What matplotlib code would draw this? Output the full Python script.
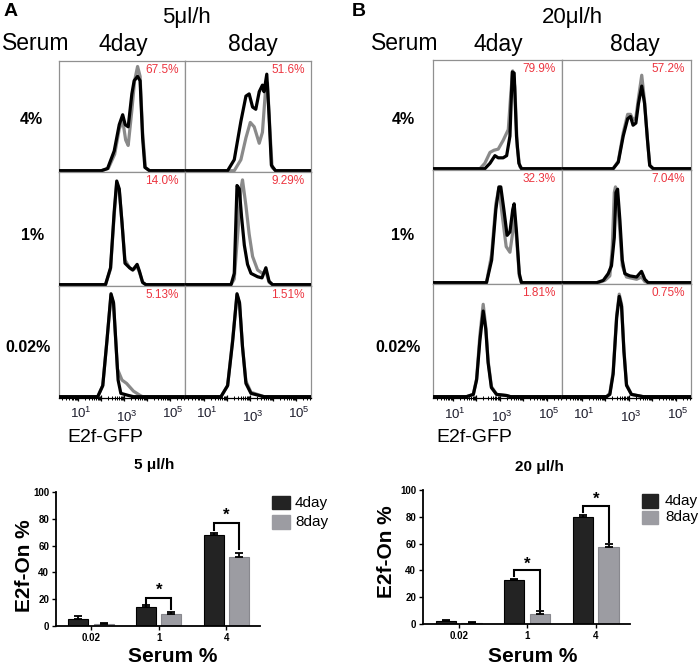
import matplotlib
matplotlib.use("Agg")
import matplotlib.pyplot as plt
from matplotlib.patches import Rectangle
import numpy as np

plt.rcParams['font.family'] = ['Liberation Sans', 'DejaVu Sans']
plt.rcParams['mathtext.fontset'] = 'custom'
plt.rcParams['mathtext.rm'] = 'Liberation Sans'

W, H = 699, 668

# ---------------- DATA ----------------
serum_rows = ["4%", "1%", "0.02%"]
day_cols = ["4day", "8day"]
flow_titles = ["5μl/h", "20μl/h"]
bar_titles = ["5 μl/h", "20 μl/h"]
bar_categories = ["0.02", "1", "4"]

# red "E2f-On" percentages, [row][col]
pct_A = [["67.5%", "51.6%"], ["14.0%", "9.29%"], ["5.13%", "1.51%"]]
pct_B = [["79.9%", "57.2%"], ["32.3%", "7.04%"], ["1.81%", "0.75%"]]

# histogram curves (log10 fluorescence, relative height)
A_4_d4_gray = [(2.0, 0), (2.3, 0.02), (2.58, 0.15), (2.78, 0.38), (2.93, 0.46), (3.06, 0.28), (3.17, 0.23),
               (3.33, 0.55), (3.45, 0.82), (3.58, 0.95), (3.69, 0.86), (3.8, 0.35), (3.92, 0.03), (4.1, 0)]
A_4_d4_black = [(2.0, 0), (2.27, 0.02), (2.56, 0.18), (2.78, 0.42), (2.93, 0.51), (3.04, 0.42), (3.17, 0.40),
                (3.33, 0.70), (3.43, 0.82), (3.58, 0.86), (3.69, 0.82), (3.8, 0.30), (3.9, 0.03), (4.1, 0)]
A_4_d8_gray = [(2.3, 0), (2.59, 0.10), (2.81, 0.30), (3.0, 0.44), (3.17, 0.40), (3.39, 0.25), (3.53, 0.35),
               (3.67, 0.75), (3.75, 0.80), (3.85, 0.40), (3.95, 0.03), (4.1, 0)]
A_4_d8_black = [(2.01, 0), (2.3, 0.10), (2.59, 0.45), (2.81, 0.68), (2.95, 0.70), (3.1, 0.58), (3.24, 0.56),
                (3.39, 0.72), (3.53, 0.78), (3.6, 0.72), (3.72, 0.88), (3.82, 0.50), (3.92, 0.05), (4.1, 0)]
A_1_d4_gray = [(2.18, 0), (2.4, 0.14), (2.56, 0.62), (2.67, 0.90), (2.78, 0.84), (2.9, 0.55), (3.03, 0.22),
               (3.23, 0.15), (3.37, 0.13), (3.56, 0.16), (3.66, 0.11), (3.8, 0.02), (3.94, 0)]
A_1_d4_black = [(2.18, 0), (2.4, 0.15), (2.56, 0.65), (2.67, 0.92), (2.78, 0.85), (2.9, 0.55), (3.03, 0.19),
                (3.23, 0.15), (3.37, 0.13), (3.56, 0.18), (3.66, 0.12), (3.8, 0.02), (3.94, 0)]
A_1_d8_gray = [(2.16, 0), (2.3, 0.05), (2.47, 0.50), (2.59, 0.85), (2.66, 0.93), (2.81, 0.70), (2.95, 0.45),
               (3.1, 0.25), (3.32, 0.13), (3.53, 0.10), (3.68, 0.12), (3.82, 0.02), (3.97, 0)]
A_1_d8_black = [(2.16, 0), (2.3, 0.10), (2.42, 0.88), (2.52, 0.85), (2.62, 0.60), (2.74, 0.35), (2.88, 0.18),
                (3.03, 0.10), (3.32, 0.07), (3.51, 0.06), (3.68, 0.15), (3.82, 0.03), (3.97, 0)]
A_002_d4_gray = [(1.84, 0), (2.06, 0.10), (2.24, 0.50), (2.42, 0.92), (2.53, 0.84), (2.7, 0.25), (2.9, 0.15),
                 (3.1, 0.12), (3.4, 0.05), (3.7, 0.01), (3.8, 0)]
A_002_d4_black = [(1.84, 0), (2.06, 0.10), (2.24, 0.50), (2.42, 0.93), (2.53, 0.85), (2.63, 0.50), (2.73, 0.15),
                  (2.85, 0.03), (3.2, 0.01), (3.4, 0)]
A_002_d8_gray = [(1.72, 0), (2.01, 0.10), (2.23, 0.52), (2.42, 0.92), (2.53, 0.84), (2.66, 0.45), (2.81, 0.14),
                 (3.03, 0.04), (3.6, 0)]
A_002_d8_black = [(1.72, 0), (2.01, 0.10), (2.23, 0.50), (2.42, 0.93), (2.53, 0.85), (2.66, 0.45), (2.81, 0.12),
                  (3.03, 0.03), (3.6, 0)]

B_4_d4_gray = [(2.15, 0), (2.36, 0.05), (2.58, 0.15), (2.75, 0.17), (2.93, 0.18), (3.14, 0.26), (3.36, 0.36),
               (3.47, 0.70), (3.55, 0.90), (3.64, 0.75), (3.74, 0.20), (3.85, 0.02), (3.95, 0)]
B_4_d4_black = [(2.36, 0), (2.58, 0.05), (2.79, 0.12), (2.93, 0.10), (3.14, 0.10), (3.29, 0.12), (3.43, 0.30),
                (3.53, 0.89), (3.61, 0.88), (3.71, 0.30), (3.81, 0.05), (3.92, 0)]
B_4_d8_gray = [(2.33, 0), (2.55, 0.07), (2.76, 0.33), (2.95, 0.50), (3.07, 0.50), (3.18, 0.45), (3.3, 0.47),
               (3.41, 0.65), (3.55, 0.86), (3.67, 0.62), (3.8, 0.25), (3.89, 0.03), (4.04, 0)]
B_4_d8_black = [(2.33, 0), (2.55, 0.06), (2.76, 0.30), (2.95, 0.46), (3.07, 0.48), (3.18, 0.40), (3.3, 0.42),
                (3.41, 0.60), (3.55, 0.76), (3.67, 0.60), (3.8, 0.25), (3.89, 0.03), (4.04, 0)]
B_1_d4_gray = [(2.43, 0), (2.65, 0.25), (2.83, 0.70), (2.96, 0.84), (3.1, 0.60), (3.27, 0.32), (3.43, 0.27),
               (3.55, 0.45), (3.61, 0.62), (3.71, 0.40), (3.83, 0.06), (3.92, 0)]
B_1_d4_black = [(2.43, 0), (2.65, 0.20), (2.83, 0.65), (2.96, 0.85), (3.04, 0.85), (3.17, 0.65), (3.31, 0.42),
                (3.43, 0.45), (3.55, 0.65), (3.61, 0.70), (3.71, 0.45), (3.83, 0.08), (3.92, 0)]
B_1_d8_gray = [(1.7, 0), (1.98, 0.02), (2.19, 0.06), (2.29, 0.30), (2.38, 0.80), (2.43, 0.85), (2.52, 0.70),
               (2.62, 0.45), (2.72, 0.15), (2.9, 0.05), (3.33, 0.03), (3.54, 0.05), (3.68, 0.01), (3.82, 0)]
B_1_d8_black = [(1.63, 0), (1.91, 0.02), (2.12, 0.08), (2.26, 0.15), (2.38, 0.40), (2.45, 0.80), (2.52, 0.83),
                (2.62, 0.55), (2.72, 0.20), (2.83, 0.08), (3.04, 0.06), (3.33, 0.05), (3.54, 0.10), (3.68, 0.03),
                (3.82, 0)]
B_002_d4_gray = [(1.58, 0), (1.87, 0.02), (2.01, 0.16), (2.15, 0.55), (2.29, 0.82), (2.4, 0.62), (2.5, 0.32),
                 (2.64, 0.09), (2.86, 0.02), (3.29, 0.01), (3.45, 0)]
B_002_d4_black = [(1.58, 0), (1.87, 0.02), (2.01, 0.15), (2.15, 0.50), (2.29, 0.76), (2.4, 0.60), (2.5, 0.30),
                  (2.64, 0.08), (2.86, 0.02), (3.29, 0.01), (3.45, 0)]
B_002_d8_gray = [(2.05, 0), (2.19, 0.03), (2.33, 0.22), (2.48, 0.72), (2.59, 0.91), (2.69, 0.82), (2.79, 0.42),
                 (2.9, 0.11), (3.11, 0.02), (3.61, 0)]
B_002_d8_black = [(2.05, 0), (2.19, 0.02), (2.33, 0.20), (2.48, 0.70), (2.59, 0.89), (2.69, 0.80), (2.79, 0.40),
                  (2.9, 0.10), (3.11, 0.02), (3.61, 0)]

# bar chart values
A_4day = [5.5, 14.5, 68.0]
A_4day_err = [2.0, 1.0, 1.2]
A_8day = [1.6, 9.3, 51.6]
A_8day_err = [0.8, 1.0, 3.0]
B_4day = [1.9, 32.8, 80.0]
B_4day_err = [0.8, 1.0, 1.0]
B_8day = [0.9, 7.5, 57.5]
B_8day_err = [0.5, 2.5, 2.5]
# significance brackets: (group, left_y, top_y, right_y, star_y)
A_sig = [(1, 15.4, 21.1, 12.9, 26.6), (2, 71.4, 77.1, 57.7, 82.6)]
B_sig = [(1, 35.5, 40.5, 11.2, 44.3), (2, 83.5, 88.3, 61.0, 92.8)]

# ---------------- STYLE ----------------
GRAY_LINE = "#8a8a8a"
FRAME = "#909090"
RED = "#ec3540"
DARK_BAR = "#232323"
LIGHT_BAR = "#9c9ca2"
XMIN, XMAX = 0.15, 5.65

fig = plt.figure(figsize=(W / 100, H / 100), dpi=100)


def fx(x):
    return x / W


def fy(y):
    return 1 - y / H


def px_axes(x0, x1, y0, y1):
    return fig.add_axes([fx(x0), fy(y1), fx(x1) - fx(x0), (y1 - y0) / H])


def draw_curve(ax, pts, color, lw, z):
    xs = [XMIN] + [p[0] for p in pts] + [XMAX]
    ys = [0.0] + [p[1] for p in pts] + [0.0]
    ax.plot(xs, ys, color=color, lw=lw, zorder=z, solid_joinstyle='round', solid_capstyle='round')


panels = {
    "A": dict(cols=[(59, 185), (185, 311)], rows=[(61, 172), (172, 286), (286, 398)],
              curves=[[(A_4_d4_gray, A_4_d4_black), (A_4_d8_gray, A_4_d8_black)],
                      [(A_1_d4_gray, A_1_d4_black), (A_1_d8_gray, A_1_d8_black)],
                      [(A_002_d4_gray, A_002_d4_black), (A_002_d8_gray, A_002_d8_black)]],
              pct=pct_A, title=flow_titles[0], title_x=186, letter_x=4, serum_x=2,
              day_x=[123, 253], row_x=[31, 33, 28], gfp_x=67),
    "B": dict(cols=[(433, 562), (562, 691)], rows=[(60, 170), (170, 284), (284, 398)],
              curves=[[(B_4_d4_gray, B_4_d4_black), (B_4_d8_gray, B_4_d8_black)],
                      [(B_1_d4_gray, B_1_d4_black), (B_1_d8_gray, B_1_d8_black)],
                      [(B_002_d4_gray, B_002_d4_black), (B_002_d8_gray, B_002_d8_black)]],
              pct=pct_B, title=flow_titles[1], title_x=572, letter_x=352, serum_x=371,
              day_x=[498, 635], row_x=[403, 403, 398], gfp_x=436),
}

row_label_y = [120, 235, 348]

for letter, P in panels.items():
    fig.text(fx(P["letter_x"]), fy(12), letter, fontsize=14, fontweight='bold', ha='left', va='center')
    fig.text(fx(P["title_x"]), fy(18), P["title"], fontsize=16, ha='center', va='center')
    fig.text(fx(P["serum_x"]), fy(44), "Serum", fontsize=16.5, ha='left', va='center')
    for c, d in enumerate(day_cols):
        fig.text(fx(P["day_x"][c]), fy(44), d, fontsize=16.5, ha='center', va='center')
    for r, lab in enumerate(serum_rows):
        fig.text(fx(P["row_x"][r]), fy(row_label_y[r]), lab, fontsize=11.5, fontweight='bold',
                 ha='center', va='center')
    for r, (y0, y1) in enumerate(P["rows"]):
        for c, (x0, x1) in enumerate(P["cols"]):
            ax = px_axes(x0, x1, y0, y1)
            ax.set_xlim(XMIN, XMAX)
            ax.set_ylim(-0.012, 1.0)
            for s in ax.spines.values():
                s.set_color(FRAME)
                s.set_linewidth(0.9)
            g, b = P["curves"][r][c]
            draw_curve(ax, g, GRAY_LINE, 2.3, 2)
            draw_curve(ax, b, "black", 2.3, 3)
            ax.text(0.95, 0.92, P["pct"][r][c], transform=ax.transAxes, color=RED,
                    fontsize=8.5, ha='right', va='center')
            ax.set_yticks([])
            if r == 2:
                major = [1, 2, 3, 4, 5]
                minor = [np.log10(k * 10 ** n) for n in range(0, 6) for k in range(2, 10)
                         if XMIN < np.log10(k * 10 ** n) < XMAX]
                ax.set_xticks(major)
                ax.set_xticks(minor, minor=True)
                ax.tick_params(axis='x', which='major', direction='inout', length=4, width=0.9,
                               colors='black', labelbottom=False)
                ax.tick_params(axis='x', which='minor', direction='inout', length=2.5, width=0.7,
                               colors='black')
                ax.spines['bottom'].set_color('black')
                tr = ax.get_xaxis_transform()
                for v, dy in [(1, -0.14), (3, -0.17), (5, -0.14)]:
                    ax.text(v + 0.1, dy, r"$10^{%d}$" % v, transform=tr, fontsize=9.5,
                            ha='center', va='center', color='#1c1c2c')
            else:
                ax.set_xticks([])
    fig.text(fx(P["gfp_x"]), fy(437), "E2f-GFP", fontsize=14, ha='left', va='center')

# ---------------- BAR CHARTS ----------------
bar_specs = [
    dict(box=(56, 260, 492, 626), d4=A_4day, d4e=A_4day_err, d8=A_8day, d8e=A_8day_err, sig=A_sig,
         title=bar_titles[0], title_xy=(154, 465), ylab_xy=(25, 566), xlab_xy=(173, 657),
         leg=(272, 290, [(496, 509), (515, 529)], 295)),
    dict(box=(423, 630, 490, 624), d4=B_4day, d4e=B_4day_err, d8=B_8day, d8e=B_8day_err, sig=B_sig,
         title=bar_titles[1], title_xy=(539, 467), ylab_xy=(387, 552), xlab_xy=(533, 657),
         leg=(642, 658, [(494, 508), (511, 524)], 665)),
]

bw = 0.296
off = 0.188
for S in bar_specs:
    x0, x1, y0, y1 = S["box"]
    ax = px_axes(x0, x1, y0, y1)
    idx = np.arange(len(bar_categories))
    ax.bar(idx - off, S["d4"], bw, color=DARK_BAR, edgecolor='black', linewidth=0.8, zorder=2)
    ax.bar(idx + off, S["d8"], bw, color=LIGHT_BAR, edgecolor='#88888e', linewidth=0.8, zorder=2)
    ax.errorbar(idx - off, S["d4"], yerr=[np.zeros(3), S["d4e"]], fmt='none', ecolor='black',
                elinewidth=1.3, capsize=3, capthick=1.3, zorder=3)
    ax.errorbar(idx + off, S["d8"], yerr=[np.zeros(3), S["d8e"]], fmt='none', ecolor='black',
                elinewidth=1.3, capsize=3, capthick=1.3, zorder=3)
    for gi, ly, ty, ry, sy in S["sig"]:
        ax.plot([gi - off, gi - off, gi + off, gi + off], [ly, ty, ty, ry], color='black', lw=1.5,
                zorder=4, solid_joinstyle='miter')
        ax.text(gi, sy, "*", fontsize=12, fontweight='bold', ha='center', va='center')
    ax.set_xlim(-0.52, 2.5)
    ax.set_ylim(0, 100)
    ax.set_yticks([0, 20, 40, 60, 80, 100])
    ax.set_xticks(idx)
    ax.set_xticklabels(bar_categories)
    for lab in ax.get_xticklabels() + ax.get_yticklabels():
        lab.set_fontweight('bold')
        lab.set_fontsize(7)
    ax.tick_params(axis='both', length=3, width=1.0, pad=2)
    ax.spines['top'].set_visible(False)
    ax.spines['right'].set_visible(False)
    ax.spines['left'].set_linewidth(1.3)
    ax.spines['bottom'].set_linewidth(1.3)
    fig.text(fx(S["title_xy"][0]), fy(S["title_xy"][1]), S["title"], fontsize=11, fontweight='bold',
             ha='center', va='center')
    fig.text(fx(S["ylab_xy"][0]), fy(S["ylab_xy"][1]), "E2f-On %", fontsize=15, fontweight='bold',
             rotation=90, ha='center', va='center')
    fig.text(fx(S["xlab_xy"][0]), fy(S["xlab_xy"][1]), "Serum %", fontsize=15, fontweight='bold',
             ha='center', va='center')
    lx0, lx1, lys, tx = S["leg"]
    for (ya, yb), col, lab in zip(lys, [DARK_BAR, LIGHT_BAR], day_cols):
        fig.patches.append(Rectangle((fx(lx0), fy(yb)), fx(lx1) - fx(lx0), (yb - ya) / H,
                                     transform=fig.transFigure, facecolor=col, edgecolor=col))
        fig.text(fx(tx), fy((ya + yb) / 2), lab, fontsize=11, ha='left', va='center')

fig.savefig("out.png", dpi=100)
